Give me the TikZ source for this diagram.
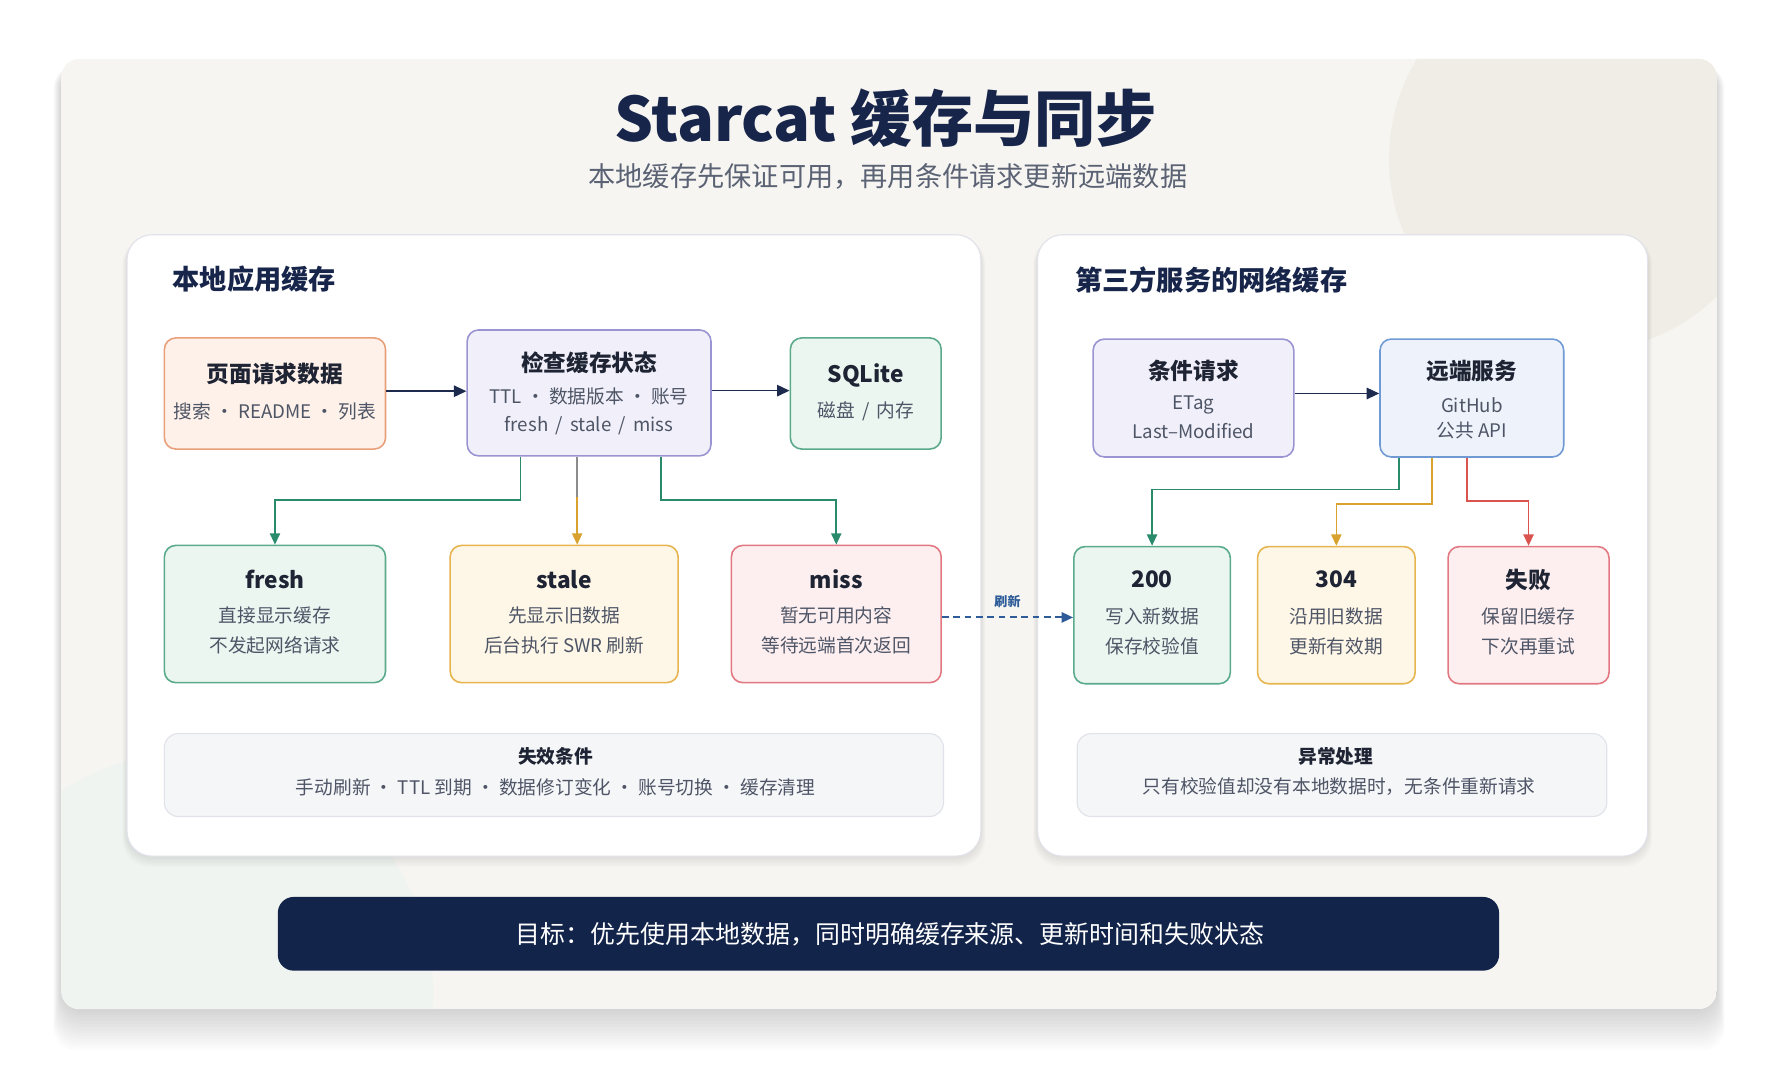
\documentclass[tikz,border=0pt]{standalone}
\usepackage{fontspec}
\setmainfont{Noto Sans CJK SC}
\usetikzlibrary{arrows.meta,calc}
\definecolor{ink}{HTML}{1E2433}
\definecolor{navy}{HTML}{18254A}
\definecolor{muted}{HTML}{4E5566}
\definecolor{subt}{HTML}{5A6274}
\definecolor{cardbg}{HTML}{F6F5F1}
\definecolor{deco}{HTML}{F0EDE6}
\definecolor{mintdeco}{HTML}{F0F4F1}
\definecolor{panelline}{HTML}{E2E2EA}
\definecolor{orB}{HTML}{E9A07A}\definecolor{orF}{HTML}{FDF1E9}
\definecolor{puB}{HTML}{9A94D2}\definecolor{puF}{HTML}{F1F0FA}
\definecolor{grB}{HTML}{5BAA8B}\definecolor{grF}{HTML}{EBF6F1}
\definecolor{blB}{HTML}{6F9AD4}\definecolor{blF}{HTML}{EEF3FB}
\definecolor{amB}{HTML}{E6B54F}\definecolor{amF}{HTML}{FEF7E7}
\definecolor{reB}{HTML}{E27882}\definecolor{reF}{HTML}{FDEFF0}
\definecolor{arNavy}{HTML}{1C2A4E}
\definecolor{arGreen}{HTML}{2A8A6C}
\definecolor{arAmber}{HTML}{D9A22F}
\definecolor{arRed}{HTML}{D9534F}
\definecolor{arGray}{HTML}{8C8C8C}
\definecolor{arBlue}{HTML}{2E5C99}
\definecolor{noteF}{HTML}{F5F6F8}
\definecolor{noteB}{HTML}{E1E3EA}
\definecolor{bannerF}{HTML}{13244A}
\begin{document}
\begin{tikzpicture}[x=1pt,y=-1pt,
  boxbase/.style={rounded corners=10pt,line width=1.4pt,inner sep=0pt},
  orbox/.style={boxbase,draw=orB,fill=orF},
  pubox/.style={boxbase,draw=puB,fill=puF},
  grbox/.style={boxbase,draw=grB,fill=grF},
  blbox/.style={boxbase,draw=blB,fill=blF},
  ambox/.style={boxbase,draw=amB,fill=amF},
  rebox/.style={boxbase,draw=reB,fill=reF},
  notebox/.style={rounded corners=12pt,line width=1pt,draw=noteB,fill=noteF,inner sep=0pt},
  panel/.style={rounded corners=22pt,line width=1pt,draw=panelline,fill=white,inner sep=0pt},
  ttl/.style={font=\fontsize{20}{24}\selectfont\bfseries,text=ink,inner sep=0pt},
  sub/.style={font=\fontsize{16.5}{20}\selectfont,text=muted,inner sep=0pt},
  ptitle/.style={font=\fontsize{24}{28}\selectfont\bfseries,text=navy,inner sep=0pt,anchor=west},
  ntitle/.style={font=\fontsize{16.5}{20}\selectfont\bfseries,text=ink,inner sep=0pt},
  arr/.style={line width=1.5pt,-{Triangle[length=11pt,width=10pt]}},
  arrs/.style={line width=1.5pt,-{Triangle[length=10pt,width=9pt]}}
]
\useasboundingbox (0,0) rectangle (1568,945.4);
\fill[white] (0,0) rectangle (1568,945.4);
% outer card shadow
\foreach \i in {1,...,14}{
  \fill[black,opacity=0.012,rounded corners=20pt] (54-\i*0.5,52+6) rectangle (1514+\i*0.5,890+\i*2.6);
}
% outer card
\begin{scope}
  \clip[rounded corners=16pt] (54,52) rectangle (1514,890);
  \fill[cardbg] (54,52) rectangle (1514,890);
  \fill[deco] (1395,140) circle[radius=170pt];
  \fill[mintdeco] (170,875) circle[radius=212pt];
\end{scope}

% title
\node[font=\fontsize{54}{60}\selectfont\bfseries,text=navy,inner sep=0pt] (title) at (781,104) {Starcat 缓存与同步};
\node[font=\fontsize{24}{28}\selectfont,text=subt,inner sep=0pt] (subtitle) at (783,156) {本地缓存先保证可用，再用条件请求更新远端数据};

% panel shadows
\foreach \i in {1,...,8}{
  \fill[black,opacity=0.010,rounded corners=24pt] (112-\i*0.5,207+2) rectangle (865+\i*0.5,755+\i*1.2);
  \fill[black,opacity=0.010,rounded corners=24pt] (915-\i*0.5,207+2) rectangle (1453+\i*0.5,755+\i*1.2);
}
\node[panel,minimum width=753pt,minimum height=548pt] (lpanel) at (488.5,481) {};
\node[panel,minimum width=538pt,minimum height=548pt] (rpanel) at (1184,481) {};
\node[ptitle] (ltitle) at (152,246) {本地应用缓存};
\node[ptitle] (rtitle) at (948,247) {第三方服务的网络缓存};

% left row 1
\node[orbox,minimum width=195pt,minimum height=98pt] (page) at (242.5,347) {};
\node[ttl] (pageT) at (242.5,330) {页面请求数据};
\node[sub] (pageS) at (242.5,363) {搜索 · README · 列表};

\node[pubox,minimum width=215pt,minimum height=111pt] (check) at (519.5,346.5) {};
\node[ttl] (checkT) at (519.5,320) {检查缓存状态};
\node[sub] (checkS1) at (519.5,350) {TTL · 数据版本 · 账号};
\node[sub] (checkS2) at (519.5,375) {fresh \,/\, stale \,/\, miss};

\node[grbox,minimum width=133pt,minimum height=98pt] (sqlite) at (763.5,347) {};
\node[ttl] (sqliteT) at (763.5,331) {SQLite};
\node[sub] (sqliteS) at (763.5,363) {磁盘 \,/\, 内存};

% left row 2
\node[grbox,minimum width=195pt,minimum height=121pt] (fresh) at (242.5,541.5) {};
\node[ttl] (freshT) at (242.5,511) {fresh};
\node[sub] (freshS1) at (242.5,543) {直接显示缓存};
\node[sub] (freshS2) at (242.5,569) {不发起网络请求};

\node[ambox,minimum width=201pt,minimum height=121pt] (stale) at (497.5,541.5) {};
\node[ttl] (staleT) at (497.5,511) {stale};
\node[sub] (staleS1) at (497.5,543) {先显示旧数据};
\node[sub] (staleS2) at (497.5,569) {后台执行 SWR 刷新};

\node[rebox,minimum width=185pt,minimum height=121pt] (miss) at (737.5,541.5) {};
\node[ttl] (missT) at (737.5,511) {miss};
\node[sub] (missS1) at (737.5,543) {暂无可用内容};
\node[sub] (missS2) at (737.5,569) {等待远端首次返回};

% right row 1
\node[pubox,minimum width=177pt,minimum height=104pt] (cond) at (1052.5,351) {};
\node[ttl] (condT) at (1052.5,327) {条件请求};
\node[sub] (condS1) at (1052.5,357) {ETag};
\node[sub] (condS2) at (1052.5,380) {Last–Modified};

\node[blbox,minimum width=162pt,minimum height=104pt] (remote) at (1298,351) {};
\node[ttl] (remoteT) at (1298,327) {远端服务};
\node[sub] (remoteS1) at (1298,357) {GitHub};
\node[sub] (remoteS2) at (1298,380) {公共 API};

% right row 2
\node[grbox,minimum width=138pt,minimum height=121pt] (ok) at (1016,542.5) {};
\node[ttl] (okT) at (1016,511) {200};
\node[sub] (okS1) at (1016,544) {写入新数据};
\node[sub] (okS2) at (1016,570) {保存校验值};

\node[ambox,minimum width=139pt,minimum height=121pt] (nm) at (1178.5,542.5) {};
\node[ttl] (nmT) at (1178.5,511) {304};
\node[sub] (nmS1) at (1178.5,544) {沿用旧数据};
\node[sub] (nmS2) at (1178.5,570) {更新有效期};

\node[rebox,minimum width=142pt,minimum height=121pt] (fail) at (1348,542.5) {};
\node[ttl] (failT) at (1348,511) {失败};
\node[sub] (failS1) at (1348,544) {保留旧缓存};
\node[sub] (failS2) at (1348,570) {下次再重试};

% notes
\node[notebox,minimum width=687pt,minimum height=73pt] (inval) at (488.5,683.5) {};
\node[ntitle] (invalT) at (490,667) {失效条件};
\node[sub] (invalS) at (490,694) {手动刷新 · TTL 到期 · 数据修订变化 · 账号切换 · 缓存清理};

\node[notebox,minimum width=467pt,minimum height=73pt] (exc) at (1183.5,683.5) {};
\node[ntitle] (excT) at (1178,667) {异常处理};
\node[sub] (excS) at (1181,694) {只有校验值却没有本地数据时，无条件重新请求};

% banner
\node[rounded corners=14pt,fill=bannerF,minimum width=1077pt,minimum height=65pt,inner sep=0pt] (banner) at (783.5,823.5) {};
\node[font=\fontsize{22}{26}\selectfont,text=white,inner sep=0pt] (bannerT) at (785,824) {目标：优先使用本地数据，同时明确缓存来源、更新时间和失败状态};

% connectors
\draw[arr,arNavy] ([yshift=2pt]page.east) -- ([yshift=2pt]page.east -| check.west);
\draw[arr,arNavy] ([yshift=2pt]check.east) -- ([yshift=2pt]check.east -| sqlite.west);
\draw[arr,arNavy] ([yshift=4pt]cond.east) -- ([yshift=4pt]cond.east -| remote.west);

\draw[arrs,arGreen] ([xshift=-60.5pt]check.south) -- ++(0,38) -| (fresh.north);
\draw[arrs,arAmber] ([xshift=-10.5pt]check.south) -- ([xshift=11.5pt]stale.north);
\draw[line width=1.5pt,arGray] ([xshift=-10.5pt]check.south) -- ++(0,36);
\draw[arrs,arGreen] ([xshift=63.5pt]check.south) -- ++(0,38) -| (miss.north);

\draw[arrs,arGreen] ([xshift=-64pt]remote.south) -- ++(0,28) -| (ok.north);
\draw[arrs,arAmber] ([xshift=-35pt]remote.south) -- ++(0,41) -| (nm.north);
\draw[arrs,arRed] ([xshift=-4pt]remote.south) -- ++(0,38) -| (fail.north);

\draw[arrs,arBlue,dashed,dash pattern=on 6pt off 4pt,line width=1.7pt] ([yshift=-3pt]miss.east) -- ([yshift=-3pt]miss.east -| ok.west)
  node[midway,above=8pt,font=\fontsize{11.5}{13}\selectfont\bfseries,text=arBlue,inner sep=0pt] (refresh) {刷新};
\end{tikzpicture}
\end{document}
